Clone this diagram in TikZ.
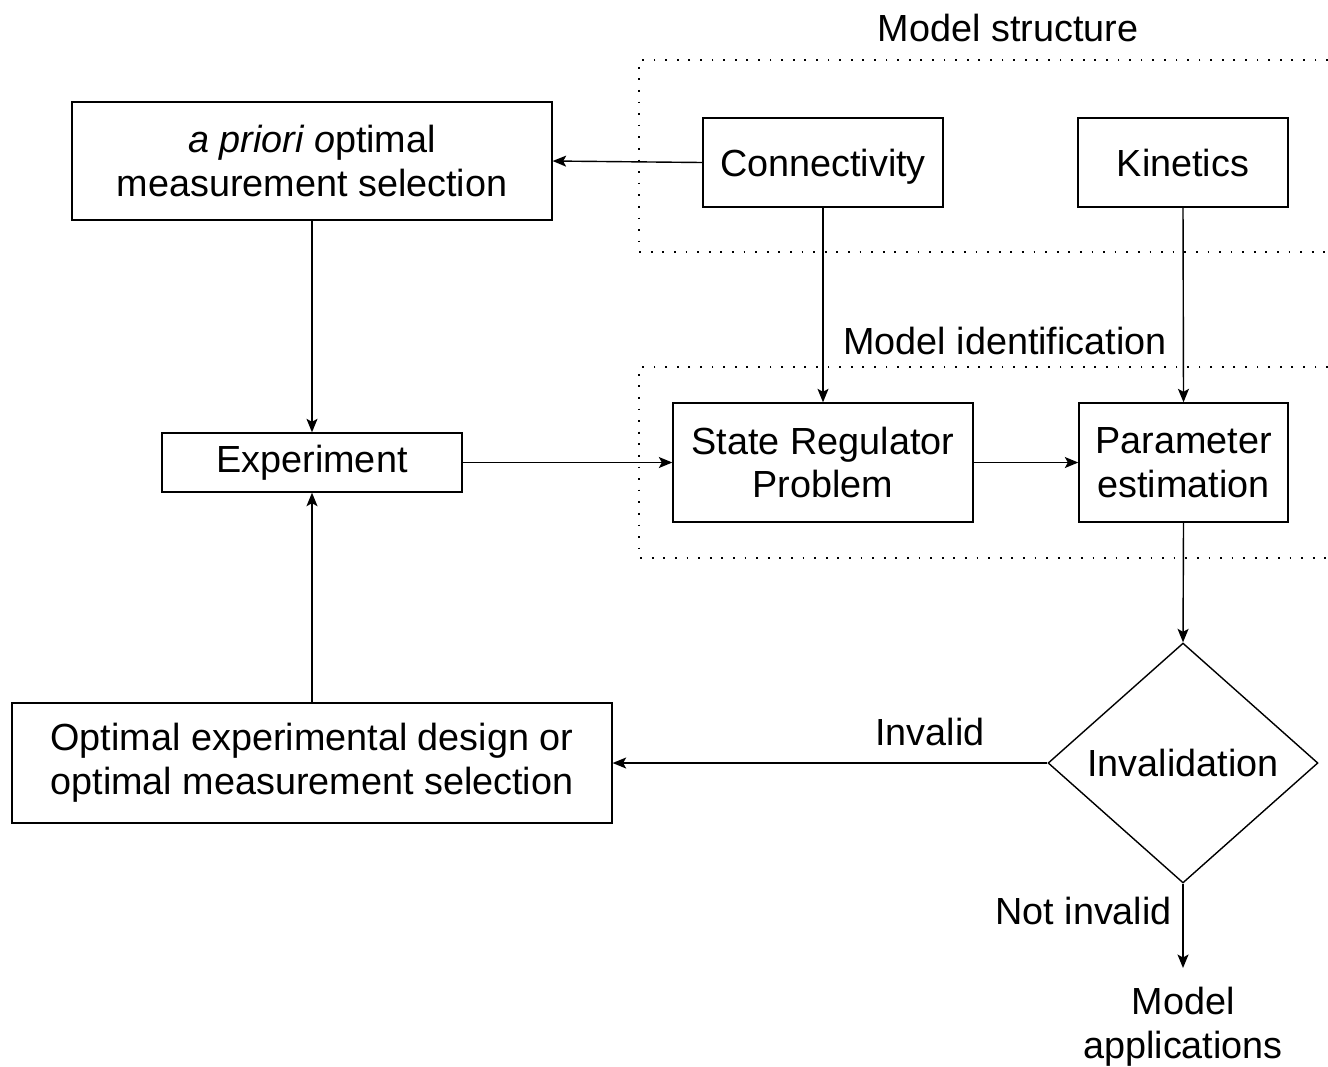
\documentclass[tikz,border=0pt]{standalone}
\usepackage{fontspec}
\setmainfont{Liberation Sans}
\usetikzlibrary{shapes.geometric,arrows.meta}
\begin{document}
\begin{tikzpicture}[x=0.02cm,y=-0.02cm,
  every node/.style={font=\fontsize{21.5}{25}\selectfont},
  box/.style={draw,line width=0.8pt,inner sep=0pt,align=center},
  onebox/.style={box,text height=15.4pt,text depth=0pt},
  dec/.style={draw,diamond,line width=0.8pt,inner sep=0pt,minimum width=5.4cm,minimum height=4.8cm,shape aspect=1.125},
  conn/.style={line width=0.8pt,-{Stealth[length=0.27cm,width=0.22cm,inset=0.06cm]}},
  zone/.style={line width=1pt,dash pattern=on 1pt off 5.6pt},
  lbl/.style={inner sep=0pt,align=center}]
\useasboundingbox (0,0) rectangle (1328,1066);
% dotted zones
\coordinate (s1) at (1328,60); \coordinate (s2) at (639,60);
\coordinate (s3) at (639,252); \coordinate (s4) at (1328,252);
\draw[zone] (s1) -- (s2) -- (s3) -- (s4);
\coordinate (i1) at (1328,367); \coordinate (i2) at (639,367);
\coordinate (i3) at (639,558); \coordinate (i4) at (1328,558);
\draw[zone] (i1) -- (i2) -- (i3) -- (i4);
\node[lbl] (ms) at (1008,28) {Model structure};
\node[lbl] (mi) at (1005,341) {Model identification};
% nodes
\node[onebox,minimum width=4.8cm,minimum height=1.78cm] (con) at (823,162.5) {Connectivity};
\node[onebox,minimum width=4.2cm,minimum height=1.78cm] (kin) at (1183,162.5) {Kinetics};
\node[box,minimum width=9.6cm,minimum height=2.36cm] (apr) at (312,161) {\textit{a priori o}ptimal\\measurement selection};
\node[box,minimum width=6cm,minimum height=1.18cm] (exp) at (312,462.5) {Experiment};
\node[box,minimum width=6cm,minimum height=2.38cm] (srp) at (823,462.5) {State Regulator\\Problem};
\node[box,minimum width=4.18cm,minimum height=2.38cm] (par) at (1183.5,462.5) {Parameter\\estimation};
\node[dec] (inv) at (1183,763) {Invalidation};
\node[box,minimum width=12cm,minimum height=2.4cm] (oed) at (312,763) {Optimal experimental design or\\optimal measurement selection};
\node[lbl] (app) at (1183,1027) {Model\\applications};
\coordinate (appt) at (1183,968);
% connectors
\draw[conn] (con.west) -- (apr.east);
\draw[conn] (apr.south) -- (exp.north);
\draw[conn] (oed.north) -- (exp.south);
\draw[conn] (exp.east) -- (srp.west);
\draw[conn] (con.south) -- (srp.north);
\draw[conn] (kin.south) -- (par.north);
\draw[conn] (srp.east) -- (par.west);
\draw[conn] (par.south) -- (inv.north);
\draw[conn] (inv.west) -- node[lbl,above=9.5pt,pos=0.27] {Invalid} (oed.east);
\draw[conn] (inv.south) -- node[lbl,left=6pt,pos=0.32] {Not invalid} (appt);
\end{tikzpicture}
\end{document}
